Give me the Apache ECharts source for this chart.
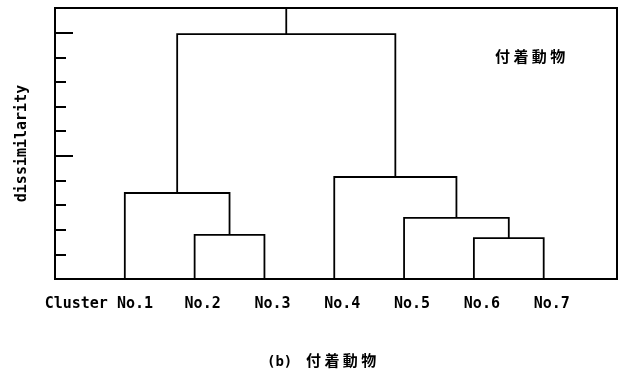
<!DOCTYPE html>
<html>
<head>
<meta charset="utf-8">
<script src="https://cdn.jsdelivr.net/npm/echarts@6/dist/echarts.min.js"></script>
<style>
  html, body { margin: 0; padding: 0; background: #fff; }
  #chart { width: 625px; height: 372px; }
</style>
</head>
<body>
<div id="chart"></div>
<script>
// leaves of the dendrogram, left to right
const leafNames = ["No.1", "No.2", "No.3", "No.4", "No.5", "No.6", "No.7"];
// merges: [left node, right node, height]; leaves are 0..6, new clusters 7, 8, ...
const mergeLeft = [5, 1, 4, 0, 3, 10];
const mergeRight = [6, 2, 7, 8, 9, 11];
const mergeHeight = [1.66, 1.79, 2.48, 3.49, 4.14, 9.94];
const yTop = 11;

var chart = echarts.init(document.getElementById("chart"));

// x / height of every node
var nodeX = leafNames.map(function (n, i) { return i + 1; });
var nodeY = leafNames.map(function () { return 0; });
var links = [];
for (var i = 0; i < mergeHeight.length; i++) {
  var a = mergeLeft[i], b = mergeRight[i], h = mergeHeight[i];
  links.push({
    coords: [[nodeX[a], nodeY[a]], [nodeX[a], h], [nodeX[b], h], [nodeX[b], nodeY[b]]]
  });
  nodeX.push((nodeX[a] + nodeX[b]) / 2);
  nodeY.push(h);
}
// stem of the root up to the frame
var root = nodeX.length - 1;
links.push({ coords: [[nodeX[root], nodeY[root]], [nodeX[root], yTop]] });

var monoFont = "'DejaVu Sans Mono', 'Noto Sans CJK JP', monospace";
var cjkFont = "'Noto Sans CJK JP'";

var option = {
  animation: false,
  backgroundColor: "#fff",
  title: [
    {
      text: "付 着 動 物",
      left: 490,
      top: 44,
      textStyle: { fontFamily: cjkFont, fontSize: 15, fontWeight: "bold", color: "#000" }
    },
    {
      text: "(b)",
      left: 262,
      top: 350,
      textStyle: { fontFamily: monoFont, fontSize: 14, fontWeight: "bold", color: "#000" }
    },
    {
      text: "付 着 動 物",
      left: 301,
      top: 348,
      textStyle: { fontFamily: cjkFont, fontSize: 15, fontWeight: "bold", color: "#000" }
    }
  ],
  grid: {
    left: 55, right: 8, top: 8, bottom: 93,
    show: true, borderColor: "#000", borderWidth: 2, backgroundColor: "transparent"
  },
  xAxis: {
    type: "value",
    min: 0,
    max: 8.05,
    interval: 1,
    axisLine: { show: false },
    axisTick: { show: false },
    splitLine: { show: false },
    axisLabel: {
      margin: 18,
      color: "#000",
      fontFamily: monoFont,
      fontSize: 15,
      fontWeight: "bold",
      formatter: function (v) {
        var k = Math.round(v);
        if (Math.abs(v - k) > 1e-6 || k < 1 || k > leafNames.length) return "";
        if (k === 1) return "{b|Cluster " + leafNames[0] + "}";
        return "{a|" + leafNames[k - 1] + "}";
      },
      rich: {
        a: { padding: [0, 0, 0, 16], fontFamily: monoFont, fontSize: 15, fontWeight: "bold", color: "#000" },
        b: { padding: [0, 52, 0, 0], fontFamily: monoFont, fontSize: 15, fontWeight: "bold", color: "#000" }
      }
    }
  },
  yAxis: [
    {
      type: "value",
      min: 0,
      max: yTop,
      interval: 1,
      name: "dissimilarity",
      nameLocation: "middle",
      nameRotate: 90,
      nameGap: 25,
      nameTextStyle: { fontFamily: monoFont, fontSize: 15, fontWeight: "bold", color: "#000" },
      axisLine: { show: false },
      axisTick: { show: true, inside: true, length: 11, lineStyle: { color: "#000", width: 2 } },
      axisLabel: { show: false },
      splitLine: { show: false }
    },
    {
      type: "value",
      min: 0,
      max: yTop,
      interval: 5,
      position: "left",
      axisLine: { show: false },
      axisTick: { show: true, inside: true, length: 18, lineStyle: { color: "#000", width: 2 } },
      axisLabel: { show: false },
      splitLine: { show: false }
    }
  ],
  series: [
    {
      type: "lines",
      coordinateSystem: "cartesian2d",
      polyline: true,
      silent: true,
      lineStyle: { color: "#000", width: 1.8, opacity: 1 },
      data: links
    }
  ]
};

chart.setOption(option);
</script>
</body>
</html>
